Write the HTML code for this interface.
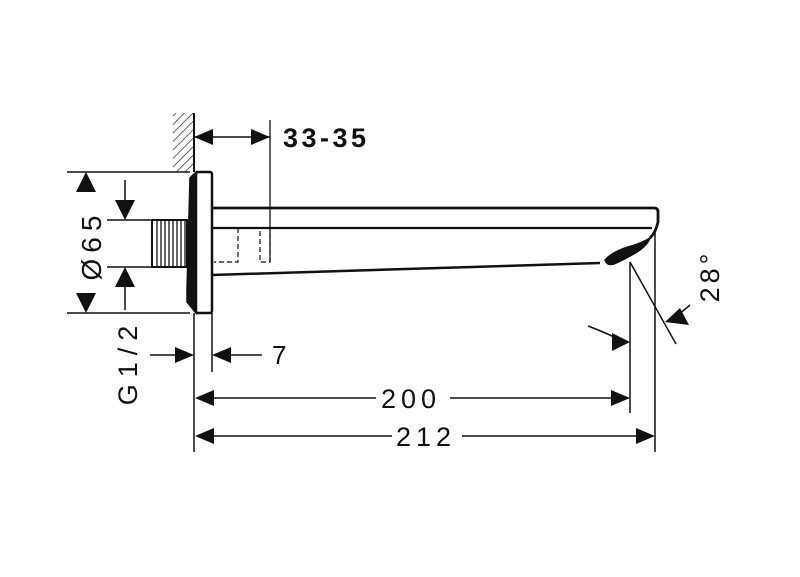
<!DOCTYPE html>
<html><head><meta charset="utf-8"><style>
html,body{margin:0;padding:0;background:#fff;}
svg{display:block;}
text{font-family:"Liberation Sans",sans-serif;fill:#111;}
</style></head><body>
<svg width="800" height="577" viewBox="0 0 800 577" xmlns="http://www.w3.org/2000/svg">
<defs>
<pattern id="h" width="6" height="6" patternUnits="userSpaceOnUse" patternTransform="rotate(45)">
<line x1="0" y1="0" x2="0" y2="6" stroke="#111" stroke-width="1.3"/>
</pattern>
</defs>
<g stroke="#111" fill="none" stroke-width="1.5">
<rect x="173" y="113" width="20" height="59" fill="url(#h)" stroke="none"/>
<line x1="194" y1="113" x2="194" y2="172" stroke-width="2"/>
<path d="M196 172 L190 178 L187 290 L187 302 L196 313 Z" fill="#111"/>
<rect x="196" y="172" width="16" height="141" rx="2" stroke-width="2.5" fill="#fff"/>
<rect x="152" y="220" width="35" height="47" stroke-width="2"/>
<g stroke-width="1.3">
<line x1="157" y1="221" x2="157" y2="266"/><line x1="161" y1="221" x2="161" y2="266"/><line x1="165" y1="221" x2="165" y2="266"/><line x1="169" y1="221" x2="169" y2="266"/><line x1="173" y1="221" x2="173" y2="266"/><line x1="177" y1="221" x2="177" y2="266"/><line x1="181" y1="221" x2="181" y2="266"/><line x1="185" y1="221" x2="185" y2="266"/>
</g>
<path d="M212 208 L654 208 Q658 208 658 212 L658 222 Q656 232 650 238" stroke-width="2.8"/>
<line x1="212" y1="228" x2="652" y2="228" stroke-width="2.2"/>
<path d="M212 275 L600 263" stroke-width="2.5"/>
<path d="M650 238 Q640 244 628 247 Q612 252 605 260 Q607 266 614 264 Q628 258 640 250 Q648 244 650 238 Z" fill="#111"/>
<path d="M214 228 L238 228 L238 262 L214 262" stroke-dasharray="5 3" stroke-width="1.2"/>
<path d="M260 228 L270 228 L270 262 L260 262 Z" stroke-dasharray="5 3" stroke-width="1.2"/>
<line x1="270" y1="120" x2="270" y2="262" stroke-width="1.3"/>
<line x1="194" y1="137" x2="270" y2="137" stroke-width="1.5"/>
<line x1="67" y1="172" x2="190" y2="172" stroke-width="1.5"/>
<line x1="67" y1="313" x2="190" y2="313" stroke-width="1.5"/>
<line x1="107" y1="220" x2="152" y2="220" stroke-width="1.5"/>
<line x1="107" y1="267" x2="152" y2="267" stroke-width="1.5"/>
<line x1="125" y1="180" x2="125" y2="205" stroke-width="1.5"/>
<line x1="125" y1="282" x2="125" y2="310" stroke-width="1.5"/>
<line x1="194" y1="313" x2="194" y2="452" stroke-width="1.5"/>
<line x1="212" y1="313" x2="212" y2="372" stroke-width="1.5"/>
<line x1="630" y1="262" x2="630" y2="413" stroke-width="1.5"/>
<line x1="655" y1="232" x2="655" y2="452" stroke-width="1.5"/>
<line x1="150" y1="355" x2="180" y2="355" stroke-width="1.5"/>
<line x1="226" y1="355" x2="262" y2="355" stroke-width="1.5"/>
<line x1="208" y1="398" x2="376" y2="398" stroke-width="1.5"/>
<line x1="450" y1="398" x2="616" y2="398" stroke-width="1.5"/>
<line x1="208" y1="436" x2="392" y2="436" stroke-width="1.5"/>
<line x1="462" y1="436" x2="641" y2="436" stroke-width="1.5"/>
<line x1="630" y1="262" x2="676" y2="344" stroke-width="1.5"/>
<path d="M588 326 Q604 332 616 338" stroke-width="1.5"/>
<line x1="690" y1="305" x2="678" y2="315" stroke-width="1.5"/>
</g>
<g fill="#111">
<polygon points="194,137 213,129 213,145"/>
<polygon points="270,137 251,129 251,145"/>
<polygon points="86,172 76,192 96,192"/>
<polygon points="86,313 76,293 96,293"/>
<polygon points="125,220 115,200 135,200"/>
<polygon points="125,267 115,287 135,287"/>
<polygon points="194,355 175,347 175,363"/>
<polygon points="212,355 231,347 231,363"/>
<polygon points="195,398 214,390 214,406"/>
<polygon points="630,398 611,390 611,406"/>
<polygon points="195,436 214,428 214,444"/>
<polygon points="655,436 636,428 636,444"/>
<polygon points="630,342 612,333 612,351"/>
<polygon points="665,322 680,308 689,325"/>
</g>
<text x="283" y="147" font-size="27" font-weight="bold" letter-spacing="3.5">33-35</text>
<text x="272" y="364" font-size="26">7</text>
<text x="381" y="408" font-size="27" letter-spacing="5">200</text>
<text x="396" y="446" font-size="27" letter-spacing="5">212</text>
<text transform="translate(101,245) rotate(-90)" font-size="28" text-anchor="middle" letter-spacing="6">Ø65</text>
<text transform="translate(137,362) rotate(-90)" font-size="27" text-anchor="middle" letter-spacing="7">G1/2</text>
<text transform="translate(719,276) rotate(-90)" font-size="27" text-anchor="middle" letter-spacing="4">28°</text>
</svg>
</body></html>
